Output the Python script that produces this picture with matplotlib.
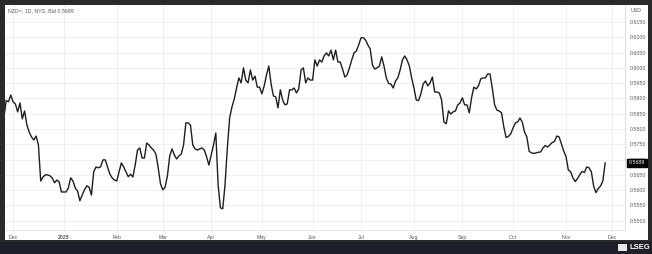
import matplotlib.pyplot as plt
import matplotlib.patches as mpatches
import numpy as np
import pandas as pd

# NZD= daily bid, business days starting 2024-11-26
start_date = "2024-11-26"
nzd_bid = [
    0.5836, 0.5893, 0.5889, 0.5911, 0.5889, 0.5882, 0.5856, 0.5885, 0.5833, 0.5859,
    0.5813, 0.5790, 0.5774, 0.5764, 0.5777, 0.5748, 0.5630, 0.5643, 0.5650, 0.5650,
    0.5647, 0.5640, 0.5624, 0.5633, 0.5627, 0.5594, 0.5594, 0.5594, 0.5607, 0.5640,
    0.5630, 0.5607, 0.5597, 0.5565, 0.5584, 0.5601, 0.5614, 0.5610, 0.5584, 0.5660,
    0.5676, 0.5673, 0.5676, 0.5699, 0.5699, 0.5676, 0.5653, 0.5640, 0.5633, 0.5630,
    0.5660, 0.5689, 0.5676, 0.5660, 0.5644, 0.5652, 0.5643, 0.5682, 0.5731, 0.5738,
    0.5705, 0.5705, 0.5754, 0.5748, 0.5738, 0.5731, 0.5718, 0.5673, 0.5620, 0.5601,
    0.5610, 0.5647, 0.5712, 0.5735, 0.5715, 0.5702, 0.5712, 0.5718, 0.5748, 0.5820,
    0.5820, 0.5813, 0.5748, 0.5735, 0.5731, 0.5735, 0.5738, 0.5731, 0.5709, 0.5682,
    0.5715, 0.5748, 0.5787, 0.5617, 0.5542, 0.5539, 0.5617, 0.5738, 0.5836, 0.5872,
    0.5898, 0.5934, 0.5967, 0.5951, 0.6000, 0.5960, 0.5951, 0.5993, 0.5960, 0.5973,
    0.5937, 0.5937, 0.5915, 0.5941, 0.5977, 0.6006, 0.5947, 0.5908, 0.5905, 0.5869,
    0.5928, 0.5895, 0.5879, 0.5882, 0.5928, 0.5928, 0.5934, 0.5918, 0.5931, 0.5993,
    0.6000, 0.5951, 0.5967, 0.5960, 0.5960, 0.6026, 0.6006, 0.6026, 0.6019, 0.6039,
    0.6049, 0.6039, 0.6058, 0.6026, 0.6058, 0.6019, 0.6019, 0.5996, 0.5970, 0.5977,
    0.6000, 0.6026, 0.6049, 0.6055, 0.6075, 0.6098, 0.6099, 0.6091, 0.6075, 0.6062,
    0.6009, 0.5996, 0.6000, 0.6006, 0.6036, 0.6006, 0.5967, 0.5949, 0.5947, 0.5934,
    0.5957, 0.5967, 0.5993, 0.6026, 0.6039, 0.6026, 0.6006, 0.5967, 0.5934, 0.5895,
    0.5893, 0.5915, 0.5947, 0.5957, 0.5941, 0.5951, 0.5970, 0.5921, 0.5921, 0.5918,
    0.5895, 0.5823, 0.5817, 0.5859, 0.5849, 0.5856, 0.5859, 0.5879, 0.5885, 0.5902,
    0.5879, 0.5879, 0.5853, 0.5902, 0.5937, 0.5931, 0.5941, 0.5964, 0.5967, 0.5967,
    0.5980, 0.5980, 0.5934, 0.5879, 0.5862, 0.5859, 0.5853, 0.5807, 0.5772, 0.5776,
    0.5784, 0.5803, 0.5820, 0.5823, 0.5836, 0.5823, 0.5790, 0.5774, 0.5727, 0.5722,
    0.5720, 0.5722, 0.5724, 0.5725, 0.5738, 0.5746, 0.5741, 0.5748, 0.5756, 0.5759,
    0.5777, 0.5774, 0.5751, 0.5728, 0.5710, 0.5666, 0.5660, 0.5640, 0.5628, 0.5638,
    0.5651, 0.5661, 0.5658, 0.5676, 0.5673, 0.5660, 0.5613, 0.5592, 0.5605, 0.5614,
    0.5630, 0.5689,
]
month_labels = ["Dec", "2025", "Feb", "Mar", "Apr", "May", "Jun",
                "Jul", "Aug", "Sep", "Oct", "Nov", "Dec"]
y_ticks = [0.5500, 0.5550, 0.5600, 0.5650, 0.5700, 0.5750, 0.5800, 0.5850,
           0.5900, 0.5950, 0.6000, 0.6050, 0.6100, 0.6150]
last_label = "0.5689"
header = "NZD=, 1D, NYS, Bid 0.5689"

W, H = 652, 254
FONT = "Liberation Sans"
TXT = "#5a5a5a"
GRID = "#ececec"


def fx(px):
    return px / W


def fy(py):
    return 1 - py / H


def main():
    dates = pd.bdate_range(start_date, periods=len(nzd_bid))
    # business-day axis: position = index, day 0 = first business day of Dec 2024
    first = list(dates).index(pd.Timestamp("2024-12-02"))
    pos = np.arange(len(dates)) - first

    # month starts (extend a few business days past the data for the last Dec)
    ext = pd.bdate_range(dates[0], periods=len(dates) + 10)
    ext_pos = np.arange(len(ext)) - first
    month_pos = [p for i, p in enumerate(ext_pos)
                 if i > 0 and ext[i].month != ext[i - 1].month]
    month_pos = month_pos[:len(month_labels)]

    fig = plt.figure(figsize=(W / 100, H / 100), dpi=100)
    fig.patch.set_facecolor("#2a2a2a")

    # white panel + bottom dark strip (behind the axes)
    bg = fig.add_axes([0, 0, 1, 1], zorder=-5)
    bg.set_xlim(0, W)
    bg.set_ylim(H, 0)
    bg.axis("off")
    bg.add_patch(mpatches.Rectangle((5, 5), 643, 235, facecolor="white",
                                    edgecolor="none"))
    bg.add_patch(mpatches.Rectangle((0, 241.5), W, 13, facecolor="#1d2029",
                                    edgecolor="none"))
    bg.add_patch(mpatches.Rectangle((618, 244), 9, 7, facecolor="#e8e8e8",
                                    edgecolor="none"))

    ax = fig.add_axes([fx(5), fy(229.7), fx(620), (229.7 - 5) / H], zorder=1)
    ax.set_facecolor("white")
    ax.plot(pos, nzd_bid, color="#1e1e1e", linewidth=1.0, zorder=3)

    ax.set_xlim(-3.5, 265.6)
    ax.set_ylim(0.54706, 0.62056)

    ax.set_xticks(month_pos)
    ax.set_xticklabels(month_labels)
    for lbl in ax.get_xticklabels():
        lbl.set_fontfamily(FONT)
        lbl.set_fontsize(3.8)
        lbl.set_color(TXT)
        if lbl.get_text() == "2025":
            lbl.set_fontweight("bold")
    ax.yaxis.tick_right()
    ax.set_yticks(y_ticks)
    ax.set_yticklabels([f"{v:.4f}" for v in y_ticks])
    for lbl in ax.get_yticklabels():
        lbl.set_fontfamily(FONT)
        lbl.set_fontsize(3.8)
        lbl.set_color(TXT)
    ax.tick_params(length=0, pad=3.5)

    ax.grid(True, color=GRID, linewidth=0.6, zorder=0)
    for side in ["left", "top"]:
        ax.spines[side].set_visible(False)
    ax.spines["right"].set_color("#d8d8d8")
    ax.spines["bottom"].set_color("#e2e2e2")
    ax.spines["right"].set_linewidth(0.6)
    ax.spines["bottom"].set_linewidth(0.6)

    fig.text(fx(8), fy(11), header, fontsize=3.8, family=FONT, color=TXT,
             va="center", ha="left")
    fig.text(fx(631), fy(11), "USD", fontsize=3.8, family=FONT, color=TXT,
             va="center", ha="left")
    fig.text(fx(629), fy(163), last_label, fontsize=3.8, family=FONT,
             color="white", va="center", ha="left", zorder=5,
             bbox=dict(boxstyle="square,pad=0.35", facecolor="black",
                       edgecolor="black"))

    # footer logo
    fig.text(fx(630), fy(247.5), "LSEG", fontsize=5.5, family=FONT,
             color="white", fontweight="bold", va="center", ha="left")

    fig.savefig("out.png", dpi=100, facecolor=fig.get_facecolor())
    plt.close(fig)


if __name__ == "__main__":
    main()
